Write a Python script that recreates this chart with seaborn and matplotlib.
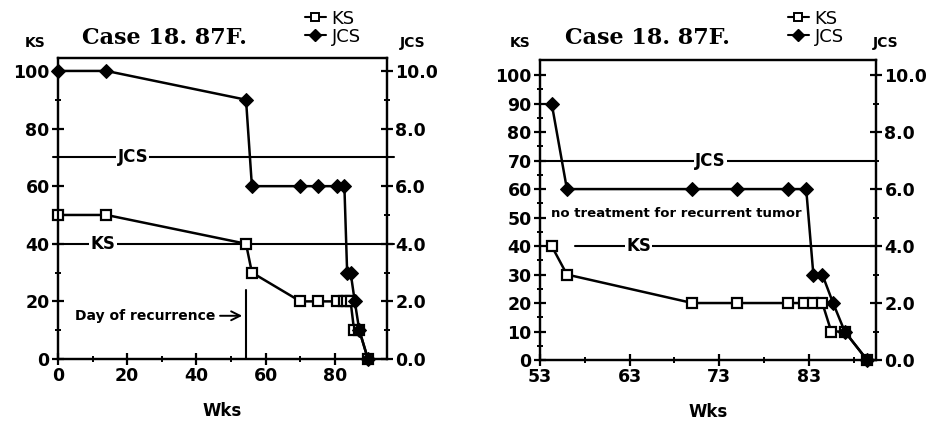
import matplotlib
matplotlib.use("Agg")
import matplotlib.pyplot as plt
from matplotlib.lines import Line2D
import seaborn as sns
import numpy as np
import pandas as pd

# data (weeks, Karnofsky score, JCS)
weeks = [0, 14, 54.3, 56, 70, 75, 80.7, 82.5, 83.5, 84.5, 85.5, 87, 89.5]
ks_vals = [50, 50, 40, 30, 20, 20, 20, 20, 20, 20, 10, 10, 0]
jcs_weeks = [0, 14, 54.3, 56, 70, 75, 80.7, 82.7, 83.5, 84.5, 85.7, 87, 89.5]
jcs_vals = [10, 10, 9, 6, 6, 6, 6, 6, 3, 3, 2, 1, 0]

recurrence_week = 54.3
ks_ref = 40      # KS reference line
jcs_ref = 7.0    # JCS reference line (plotted on JCS axis)

title = "Case 18. 87F."

sns.set_theme(style="ticks")
plt.rcParams['font.family'] = ['DejaVu Sans']
plt.rcParams['axes.linewidth'] = 1.6
for k in ('text.color', 'axes.labelcolor', 'xtick.color', 'ytick.color', 'axes.edgecolor'):
    plt.rcParams[k] = 'black'

fig = plt.figure(figsize=(9.26, 4.26), dpi=100)
ax1 = fig.add_axes([0.0626, 0.1573, 0.3553, 0.7066])
ax2 = fig.add_axes([0.5832, 0.1549, 0.3629, 0.7042])

df_ks = pd.DataFrame({"Wks": weeks, "KS": ks_vals})
df_jcs = pd.DataFrame({"Wks": jcs_weeks, "JCS": jcs_vals})

TICKFONT = dict(fontsize=12.5, fontweight='bold')


def draw_panel(ax, xlim, ytop, xmajor, xminor, ymajor, yminor, first_idx):
    ks = df_ks.iloc[first_idx:]
    jc = df_jcs.iloc[first_idx:]
    sns.lineplot(data=ks, x="Wks", y="KS", ax=ax, color='black', lw=1.8,
                 marker='s', markersize=7, markerfacecolor='white',
                 markeredgecolor='black', markeredgewidth=1.6,
                 sort=False, estimator=None, clip_on=False, zorder=3)
    ax.set_xlim(*xlim)
    ax.set_ylim(0, ytop)
    axr = ax.twinx()
    sns.lineplot(data=jc, x="Wks", y="JCS", ax=axr, color='black', lw=1.8,
                 marker='D', markersize=7.5, markerfacecolor='black',
                 markeredgecolor='black', sort=False, estimator=None,
                 clip_on=False, zorder=3)
    axr.set_ylim(0, ytop / 10)
    axr.set_xlim(*xlim)

    ax.set_xticks(xmajor)
    ax.set_xticks(xminor, minor=True)
    ax.set_yticks(ymajor)
    ax.set_yticks(yminor, minor=True)
    axr.set_yticks(np.arange(0, 10.1, 2.0))
    axr.set_yticks(np.arange(1, 10, 2.0), minor=True)
    ax.set_xticklabels([str(v) for v in xmajor], **TICKFONT)
    ax.set_yticklabels([str(v) for v in ymajor], **TICKFONT)
    axr.set_yticklabels([f"{v:.1f}" for v in np.arange(0, 10.1, 2.0)], **TICKFONT)
    for a in (ax, axr):
        a.tick_params(which='major', direction='inout', length=8, width=1.6, pad=2)
        a.tick_params(which='minor', direction='inout', length=5, width=1.4)
        for s in a.spines.values():
            s.set_linewidth(1.6)
            s.set_color('black')
    ax.set_xlabel("Wks", fontsize=12, fontweight='bold', labelpad=12)
    ax.set_ylabel("")
    axr.set_ylabel("")
    return axr


axr1 = draw_panel(ax1, (0, 95), 104.5, [0, 20, 40, 60, 80],
                  [10, 30, 50, 70, 90], list(range(0, 101, 20)),
                  list(range(10, 100, 20)), 0)
axr2 = draw_panel(ax2, (53, 90.5), 105.3, [53, 63, 73, 83],
                  [58, 68, 78, 88], list(range(0, 101, 10)),
                  list(range(5, 100, 10)), 2)

box = dict(facecolor='white', edgecolor='none', pad=1)
lab = dict(fontsize=12, fontweight='bold', ha='center', va='center', bbox=box, zorder=2)

# left panel reference lines
ax1.axhline(jcs_ref * 10, xmin=-0.015, xmax=1.02, color='black', lw=1.5, clip_on=False, zorder=1)
ax1.text(21.6, jcs_ref * 10, "JCS", **lab)
ax1.axhline(ks_ref, xmin=-0.015, xmax=1.02, color='black', lw=1.5, clip_on=False, zorder=1)
ax1.text(13, ks_ref, "KS", **lab)

# day of recurrence marker
ax1.plot([recurrence_week, recurrence_week], [0, 24], color='black', lw=1.5)
ax1.annotate("", xy=(recurrence_week - 0.3, 15), xytext=(46, 15),
             arrowprops=dict(arrowstyle='->', color='black', lw=1.4, mutation_scale=16))
ax1.text(5, 15, "Day of recurrence", fontsize=10, fontweight='bold', ha='left', va='center')

# right panel reference lines
ax2.axhline(jcs_ref * 10, color='black', lw=1.5, zorder=1)
ax2.text(72, jcs_ref * 10, "JCS", **lab)
ax2.axhline(ks_ref, xmin=(56.9 - 53) / 37.5, xmax=1, color='black', lw=1.5, zorder=1)
ax2.text(64, ks_ref, "KS", **lab)
ax2.text(54.2, 51.5, "no treatment for recurrent tumor", fontsize=9.5,
         fontweight='bold', ha='left', va='center')

# titles and axis names
for x0, xl, xr in [(82, 35, 413), (565, 520, 886)]:
    fig.text(x0 / 926, 1 - 38 / 426, title, fontsize=16, fontweight='bold',
             family=['DejaVu Serif'], ha='left', va='center')
    fig.text(xl / 926, 1 - 43 / 426, "KS", fontsize=10, fontweight='bold',
             ha='center', va='center')
    fig.text(xr / 926, 1 - 43 / 426, "JCS", fontsize=10, fontweight='bold',
             ha='center', va='center')

# legends
handles = [Line2D([], [], color='black', lw=1.5, marker='s', markersize=6,
                  markerfacecolor='white', markeredgecolor='black', markeredgewidth=1.4),
           Line2D([], [], color='black', lw=1.5, marker='D', markersize=6,
                  markerfacecolor='black')]
for xleg in (292, 775):
    fig.legend(handles, ["KS", "JCS"], loc='upper left',
               bbox_to_anchor=(xleg / 926, 1 + 3 / 426), frameon=False,
               handlelength=1.2, handletextpad=0.3, labelspacing=0.0,
               borderpad=0.2, prop=dict(size=13))

fig.savefig("out.png", dpi=100)
